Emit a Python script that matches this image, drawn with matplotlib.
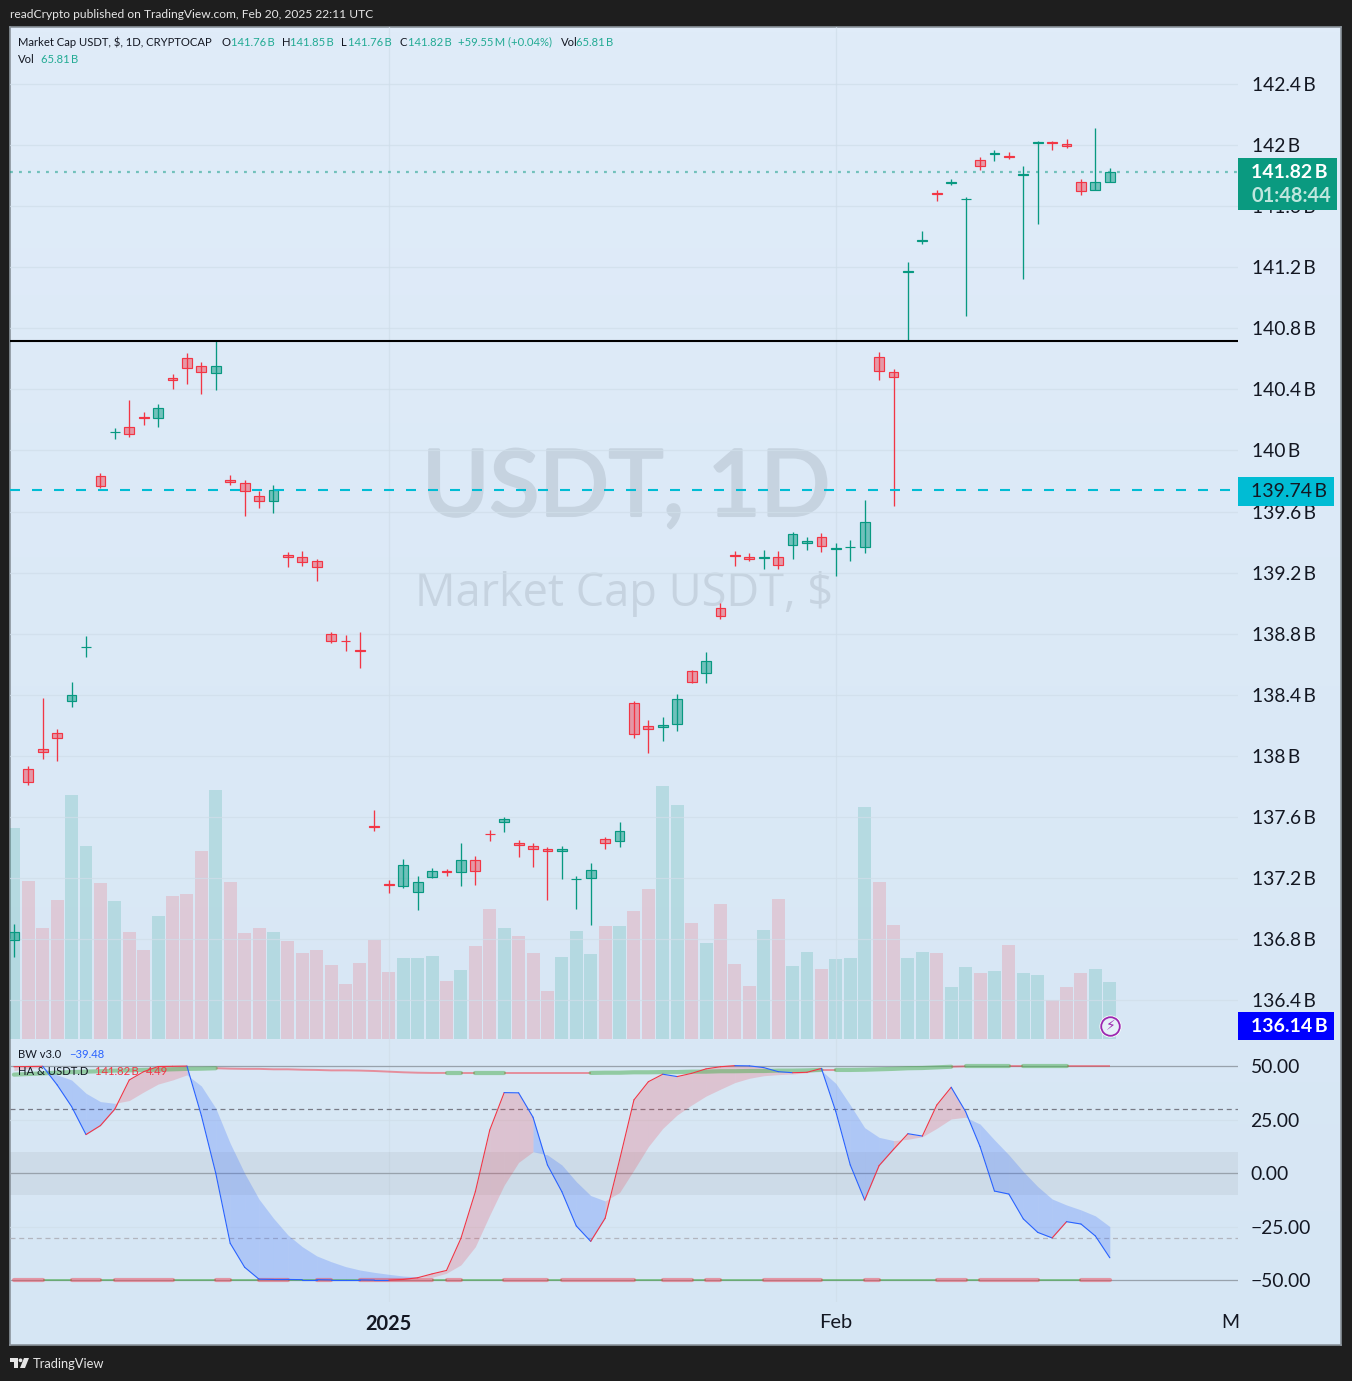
import numpy as np
import matplotlib
matplotlib.use("Agg")
import matplotlib.pyplot as plt
import matplotlib.patheffects as pe
from matplotlib.patches import Rectangle, Circle, Polygon

FONT = "Lato"
plt.rcParams["font.family"] = [FONT, "DejaVu Sans"]

opens = [136.793,137.916,138.047,138.151,138.358,138.711,139.834,140.119,140.155,140.220,140.213,140.475,140.606,140.554,140.508,139.808,139.788,139.703,139.668,139.317,139.303,139.277,138.799,138.750,138.691,137.538,137.164,137.147,137.108,137.206,137.248,137.239,137.320,137.487,137.566,137.431,137.412,137.392,137.376,137.192,137.199,137.457,137.442,138.348,138.197,138.188,138.207,138.557,138.541,138.965,139.317,139.303,139.294,139.303,139.379,139.393,139.434,139.353,139.366,139.369,140.613,140.515,141.167,141.370,141.686,141.749,141.644,141.903,141.939,141.925,141.802,142.011,142.020,142.007,141.758,141.703,141.76]
highs = [136.900,137.934,138.379,138.176,138.484,138.785,139.852,140.147,140.330,140.251,140.304,140.500,140.638,140.579,140.716,139.839,139.806,139.732,139.774,139.335,139.341,139.289,138.811,138.792,138.811,137.646,137.188,137.325,137.214,137.266,137.260,137.430,137.345,137.515,137.600,137.450,137.430,137.404,137.410,137.214,137.299,137.469,137.567,138.359,138.235,138.255,138.405,138.562,138.680,139.001,139.341,139.328,139.348,139.341,139.466,139.433,139.459,139.394,139.413,139.675,140.644,140.533,141.233,141.436,141.705,141.777,141.659,141.921,141.967,141.954,141.862,142.026,142.026,142.039,141.777,142.111,141.85]
lows = [136.686,137.812,137.982,137.969,138.322,138.649,139.756,140.075,140.090,140.168,140.155,140.402,140.435,140.369,140.395,139.774,139.571,139.623,139.590,139.237,139.243,139.145,138.739,138.687,138.575,137.508,137.102,137.135,136.991,137.201,137.214,137.148,137.155,137.443,137.502,137.338,137.273,137.057,137.194,136.998,136.893,137.391,137.404,138.117,138.019,138.098,138.163,138.477,138.477,138.896,139.243,139.276,139.224,139.224,139.289,139.348,139.335,139.178,139.276,139.328,140.461,139.636,140.716,141.351,141.633,141.738,140.880,141.836,141.895,141.908,141.122,141.482,141.967,141.980,141.672,141.703,141.76]
closes = [136.844,137.828,138.024,138.116,138.400,138.712,139.768,140.120,140.106,140.211,140.279,140.460,140.538,140.512,140.554,139.792,139.733,139.668,139.742,139.301,139.268,139.235,138.751,138.749,138.690,137.532,137.158,137.287,137.176,137.248,137.239,137.320,137.245,137.486,137.588,137.415,137.389,137.376,137.392,137.193,137.254,137.429,137.510,138.142,138.175,138.204,138.374,138.482,138.623,138.919,139.307,139.288,139.303,139.248,139.454,139.408,139.373,139.362,139.367,139.533,140.518,140.479,141.176,141.379,141.677,141.758,141.645,141.861,141.948,141.924,141.811,142.020,142.011,141.992,141.697,141.758,141.82]
volumes = [243.6,182.4,128.2,160.5,281.7,222.8,180.1,159.3,123.5,102.8,142.0,165.1,167.4,217.1,287.5,181.3,122.4,128.2,123.5,113.2,99.3,102.8,85.4,63.5,87.7,114.3,77.4,93.5,93.5,95.8,67.0,79.7,107.4,150.1,128.2,118.9,99.3,55.4,94.7,124.7,98.1,130.5,130.5,147.8,173.2,292.1,270.2,133.9,110.8,155.9,86.6,61.2,125.9,161.6,84.3,100.5,80.8,92.4,93.5,267.9,181.3,131.6,93.5,100.5,99.3,60.0,83.1,76.2,78.5,108.5,76.2,73.9,45.0,60.0,76.2,80.8,65.81]
fast = [49.8,49.9,50,41.3,31.2,18.1,22.3,30,43.6,47.5,49.9,50,50.1,27,0,-32.7,-43.9,-49.5,-49.6,-49.6,-49.7,-49.7,-49.8,-49.8,-49.8,-49.9,-49.9,-49.6,-48.8,-47,-45.4,-30.4,-8.6,20.2,37.7,37.6,26.2,3.9,-8.6,-24.6,-31.8,-21,6.2,34.3,42.8,46.3,45.2,46.7,48.8,49.8,50.3,50.2,49.4,47.5,47,47.2,49,28.8,3.9,-12.5,3.6,11.2,18.5,17.4,31.9,40.2,28.8,12.5,-8.3,-9.7,-21.3,-27.6,-30.2,-22.6,-23.7,-29.3,-39.48]
slow = [48,49,49.6,46,43.6,37.4,33.5,32.7,34,38,41.7,43.6,46,40.8,30.4,14,0,-12.1,-21,-28.8,-34.3,-38.6,-41.3,-43.6,-45.2,-46.3,-47.2,-48,-48.4,-48.6,-46.7,-42.8,-34.3,-19.5,-5.5,5.1,10.1,8.6,3.9,-3.9,-10.4,-12.9,-9,1.6,12.5,21,27.3,31.9,36.1,39.3,42.4,44.4,45.6,46.1,46.4,47,48,42,31.9,21.3,16.8,15.3,15.9,17.1,21,25.4,26.2,23,15.6,8.6,0.8,-6.2,-12,-14.8,-17.1,-19.9,-24.9]
upper_stripe = [46.1,46.4,46.7,47,47.3,47.5,47.7,48,48.1,48.3,48.4,48.6,48.8,48.9,49.1,48.9,48.8,48.8,48.6,48.6,48.4,48.3,48.1,48.1,48,47.8,47.5,47.2,47,46.9,46.9,46.9,46.9,46.9,46.9,46.9,46.9,46.9,46.9,46.9,46.9,47,47,47.2,47.2,47.3,47.3,47.5,47.5,47.7,47.7,47.8,47.8,48,48,48.1,48.3,48.3,48.3,48.4,48.6,48.8,49.1,49.2,49.5,49.8,50,50,50,50,50,50,50,50,50,50,50]
upper_green_runs = [(0,14),(30,31),(32,34),(40,56),(57,65),(66,69),(70,73)]
lower_red_runs = [(0,2),(4,6),(7,11),(14,15),(17,19),(21,22),(24,29),(30,31),(34,37),(38,43),(45,47),(48,49),(52,56),(59,60),(64,66),(67,71),(74,76)]
price_ticks = [136.4,136.8,137.2,137.6,138.0,138.4,138.8,139.2,139.6,140.0,140.4,140.8,141.2,141.6,142.0,142.4]
price_labels = ["136.4\u2009B","136.8\u2009B","137.2\u2009B","137.6\u2009B","138\u2009B","138.4\u2009B","138.8\u2009B","139.2\u2009B","139.6\u2009B","140\u2009B","140.4\u2009B","140.8\u2009B","141.2\u2009B","141.6\u2009B","142\u2009B","142.4\u2009B"]
osc_ticks = [50,25,0,-25,-50]
osc_labels = ["50.00","25.00","0.00","\u221225.00","\u221250.00"]
time_ticks = [26,57]
time_labels = ["2025","Feb"]
support_level = 140.716
last_close = 141.82
dash_level = 139.74

BG = "#1e1e1e"; TXT = "#131722"; GREEN = "#089981"; RED = "#f23645"; BLUE = "#2962ff"
GRID = "#d0deea"

W, H = 1352, 1381
fig = plt.figure(figsize=(W/100, H/100), dpi=100, facecolor=BG)
def rect(l, t, r, b):
    return [l/W, 1-b/H, (r-l)/W, (b-t)/H]

# panel background
bg = fig.add_axes(rect(10, 27, 1341, 1345), zorder=0)
grad = np.linspace(0, 1, 256)[:, None, None]*np.array([214-224, 230-236, 244-249])+np.array([224, 236, 249])
bg.imshow(grad/255, aspect="auto", extent=(0, 1, 0, 1))
bg.set_xticks([]); bg.set_yticks([])
for s in bg.spines.values():
    s.set_color("#8b949c"); s.set_linewidth(1.2)

n = len(opens)
idx = np.arange(n)
XL = ((10-13.9)/14.42, (1238-13.9)/14.42)
isup = [c >= o for o, c in zip(opens, closes)]

# main pane
ax_v = fig.add_axes(rect(10, 27, 1238, 1040), zorder=2)
ax_v.patch.set_alpha(0)
ax_v.set_xlim(*XL); ax_v.set_ylim(-1.15, 1168.5)
ax_v.axis("off")
ax_v.bar(idx, volumes, width=0.9, color=[(8/255,153/255,129/255,0.17) if u else (242/255,54/255,69/255,0.17) for u in isup], linewidth=0)

ax = fig.add_axes(rect(10, 27, 1238, 1040), zorder=3)
ax.patch.set_alpha(0)
ax.set_xlim(*XL); ax.set_ylim(136.140, 142.772)
for s in ax.spines.values():
    s.set_visible(False)
ax.yaxis.tick_right()
ax.set_yticks(price_ticks); ax.set_yticklabels(price_labels)
ax.tick_params(axis="y", length=0, pad=13.5*0.72, labelsize=13.9, labelcolor=TXT)
ax.set_xticks(time_ticks); ax.set_xticklabels([])
ax.tick_params(axis="x", length=0)
ax.grid(True, color=GRID, lw=0.9, alpha=0.75, zorder=0)
ax.set_axisbelow(True)

ax.vlines(idx, lows, highs, colors=[GREEN if u else RED for u in isup], lw=0.95, zorder=4)
ax.bar(idx, [abs(c-o) for o, c in zip(opens, closes)], bottom=[min(o, c) for o, c in zip(opens, closes)], width=0.68,
       color=[(8/255,153/255,129/255,0.5) if u else (242/255,54/255,69/255,0.45) for u in isup],
       edgecolor=[GREEN if u else RED for u in isup], linewidth=0.85, zorder=5)
ax.axhline(support_level, color="black", lw=1.5, zorder=6)
ax.axhline(dash_level, color="#00bcd4", lw=1.5, dashes=(4.8, 5.76), zorder=6)
ax.axhline(last_close, color=GREEN, lw=1.6, alpha=0.5, dashes=(1.3, 2.75), zorder=3)

# oscillator pane
ax2 = fig.add_axes(rect(10, 1040, 1238, 1302), zorder=3)
ax2.patch.set_alpha(0)
ax2.set_xlim(*XL); ax2.set_ylim((1173.3-1302)/2.14, (1173.3-1040)/2.14)
for s in ax2.spines.values():
    s.set_visible(False)
ax2.yaxis.tick_right()
ax2.set_yticks(osc_ticks); ax2.set_yticklabels(osc_labels)
ax2.tick_params(axis="y", length=0, pad=12.5*0.72, labelsize=13.9, labelcolor=TXT)
ax2.set_xticks(time_ticks); ax2.set_xticklabels(time_labels)
ax2.tick_params(axis="x", length=0, pad=9, labelsize=14.4, labelcolor=TXT)
ax2.get_xticklabels()[0].set_fontweight("bold")
ax2.grid(True, color=GRID, lw=0.9, alpha=0.75, zorder=0)
ax2.set_axisbelow(True)
ax2.axhspan(-10, 10, color="#787b86", alpha=0.1, lw=0, zorder=1)
for lvl in (50, 0, -50):
    ax2.axhline(lvl, color="#98a2ac", lw=0.9, zorder=2)
ax2.axhline(30, color="#787b86", lw=0.9, dashes=(4, 3), zorder=2)
ax2.axhline(-30, color="#b2b5be", lw=0.9, dashes=(4, 3), zorder=2)
for i in range(n-1):
    up = fast[i+1] >= slow[i+1]
    ax2.fill_between(idx[i:i+2], fast[i:i+2], slow[i:i+2], color=(RED if up else BLUE), alpha=0.2 if up else 0.23, lw=0, zorder=3)
for i in range(n-1):
    ax2.plot(idx[i:i+2], fast[i:i+2], color=(RED if fast[i+1] > fast[i] else BLUE), lw=0.8, zorder=6, solid_capstyle="round")

def complement(runs):
    out, pos = [], 0
    for a, b in runs:
        if a > pos:
            out.append((pos, a))
        pos = b
    if pos < n-1:
        out.append((pos, n-1))
    return out

# upper stripe: thick green runs, thin red elsewhere
for a, b in complement(upper_green_runs):
    ax2.plot(idx[a:b+1], upper_stripe[a:b+1], color=RED, lw=1.4, alpha=0.5, zorder=4, solid_capstyle="butt")
for a, b in upper_green_runs:
    ax2.plot(idx[a:b+1], upper_stripe[a:b+1], color="#4caf50", lw=3, alpha=0.5, zorder=4, solid_capstyle="round")
# lower stripe: thick red runs, thin green elsewhere
for a, b in complement(lower_red_runs):
    ax2.plot(idx[a:b+1], [-50]*(b-a+1), color="#4caf50", lw=1.4, alpha=0.6, zorder=4, solid_capstyle="butt")
for a, b in lower_red_runs:
    ax2.plot(idx[a:b+1], [-50]*(b-a+1), color=RED, lw=3, alpha=0.45, zorder=4, solid_capstyle="round")

# watermark, under the marks
ov = fig.add_axes([0, 0, 1, 1], zorder=1)
ov.set_xlim(0, W); ov.set_ylim(H, 0); ov.axis("off"); ov.patch.set_alpha(0)
ov.text(626, 490, "USDT, 1D", fontsize=66, color="#c6d3e0", ha="center", va="center", family=["Lato"],
        path_effects=[pe.withStroke(linewidth=2.2, foreground="#c6d3e0")])
ov.text(624, 594, "Market Cap USDT, $", fontsize=32.5, color="#c6d3e0", ha="center", va="center", family=["Open Sans"])

top = fig.add_axes([0, 0, 1, 1], zorder=5)
top.set_xlim(0, W); top.set_ylim(H, 0); top.axis("off"); top.patch.set_alpha(0)
def t(x, y, s, c=TXT, fs=8.1, **kw):
    top.text(x, y, s, color=c, fontsize=fs, va="center", **kw)
t(10, 14.5, "readCrypto published on TradingView.com, Feb 20, 2025 22:11 UTC", "#e6e6e6", 8.67)
TEAL = "#22ab94"
t(18, 42, "Market Cap USDT, $, 1D, CRYPTOCAP", fs=8.15)
for x, s, c in [(222,"O",TXT),(231,"141.76\u2009B",TEAL),(282,"H",TXT),(290,"141.85\u2009B",TEAL),(341,"L",TXT),(348,"141.76\u2009B",TEAL),(400,"C",TXT),(408,"141.82\u2009B",TEAL),(458,"+59.55\u2009M (+0.04%)",TEAL),(561,"Vol",TXT),(576,"65.81\u2009B",TEAL)]:
    t(x, 42, s, c)
t(18, 59, "Vol"); t(41, 59, "65.81\u2009B", TEAL)
t(18, 1054.5, "BW v3.0"); t(69, 1054.5, "\u221239.48", BLUE)
t(18, 1071.5, "HA & USDT.D"); t(95, 1071.5, "141.82\u2009B", RED); t(146, 1071.5, "4.49", RED)
t(1221, 1322, "M", TXT, 14.0)

top.add_patch(Rectangle((1238, 158), 99, 52, fc="#0a9a80", ec="none", zorder=2))
t(1289, 172.5, "141.82\u2009B", "white", 14.0, ha="center", fontweight="bold", zorder=3)
t(1291, 196, "01:48:44", "#bfe6de", 14.4, ha="center", fontweight="bold", zorder=3)
top.add_patch(Rectangle((1238, 477), 96, 29, fc="#00bcd4", ec="none", zorder=2))
t(1289, 491.5, "139.74\u2009B", TXT, 14.0, ha="center", zorder=3)
top.add_patch(Rectangle((1238, 1012), 96, 28, fc="#0000ff", ec="none", zorder=2))
t(1289, 1026, "136.14\u2009B", "white", 14.0, ha="center", fontweight="bold", zorder=3)
top.add_patch(Circle((1110.5, 1026.5), 11, fc="white", ec="none", zorder=2))
top.add_patch(Circle((1110.5, 1026.5), 9.3, fc="#e6eff8", ec="#9c27b0", lw=1.3, zorder=3))
top.text(1110.5, 1026.5, "\u26a1", color="#9c27b0", fontsize=10, ha="center", va="center", family=["DejaVu Sans"], zorder=4)

# logo
top.add_patch(Polygon([(10,1358),(18,1358),(18,1368),(14,1368),(14,1362),(10,1362)], fc="#e6e6e6", ec="none"))
top.add_patch(Circle((20.5,1360.3), 1.9, fc="#e6e6e6", ec="none"))
top.add_patch(Polygon([(24,1358),(29,1358),(25,1368),(20,1368)], fc="#e6e6e6", ec="none"))
t(33, 1363.5, "TradingView", "#e6e6e6", 9.3)

fig.savefig("out.png", dpi=100, facecolor=BG)
